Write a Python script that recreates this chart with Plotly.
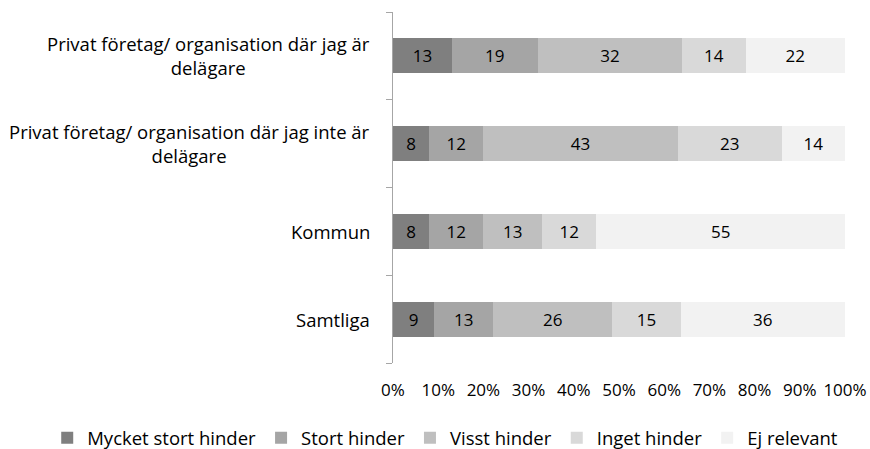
import plotly.graph_objects as go

# Categories (top to bottom) and response shares in percent
categories = [
    "Privat företag/ organisation där jag är<br>delägare",
    "Privat företag/ organisation där jag inte är<br>delägare",
    "Kommun",
    "Samtliga",
]
series_names = ["Mycket stort hinder", "Stort hinder", "Visst hinder", "Inget hinder", "Ej relevant"]
mycket_stort = [13, 8, 8, 9]
stort = [19, 12, 12, 13]
visst = [32, 43, 13, 26]
inget = [14, 23, 12, 15]
ej_relevant = [22, 14, 55, 36]
series_values = [mycket_stort, stort, visst, inget, ej_relevant]
colors = ["#7f7f7f", "#a5a5a5", "#bfbfbf", "#d9d9d9", "#f2f2f2"]
x_ticks = [0, 10, 20, 30, 40, 50, 60, 70, 80, 90, 100]
x_tick_labels = [f"{t}%" for t in x_ticks]

FONT = "Open Sans"
FS_TEXT = 18.5   # category labels and legend
FS_NUM = 17      # numbers on bars and axis
fig = go.Figure()
for name, vals, col in zip(series_names, series_values, colors):
    fig.add_trace(go.Bar(
        y=list(range(len(categories))),
        x=vals,
        name=name,
        orientation="h",
        marker=dict(color=col, line=dict(width=0)),
        text=vals,
        texttemplate="%{text}",
        textposition="inside",
        insidetextanchor="middle",
        textangle=0,
        constraintext="none",
        textfont=dict(family=FONT, size=FS_NUM, color="#000000"),
        hoverinfo="skip",
    ))

# Category labels drawn centered, to the left of the axis
for i, cat in enumerate(categories):
    fig.add_annotation(
        x=-0.046, xref="paper", xanchor="right",
        y=i, yref="y", yanchor="middle",
        text=cat, showarrow=False, align="center",
        font=dict(family=FONT, size=FS_TEXT, color="#000000"),
    )

fig.update_layout(
    barmode="stack",
    barnorm="percent",
    bargap=0.6,
    width=870, height=449,
    margin=dict(l=393, r=25, t=12, b=86, autoexpand=False),
    plot_bgcolor="white",
    paper_bgcolor="white",
    font=dict(family=FONT, size=FS_NUM, color="#000000"),
    xaxis=dict(
        range=[0, 100],
        tickvals=x_ticks,
        ticktext=x_tick_labels,
        showgrid=False,
        zeroline=False,
        showline=False,
        ticks="",
        ticklabelstandoff=15,
        tickfont=dict(family=FONT, size=FS_NUM, color="#000000"),
        fixedrange=True,
    ),
    yaxis=dict(
        type="category",
        range=[len(categories) - 0.5, -0.5],
        tickvals=list(range(len(categories))),
        showticklabels=False,
        tickson="boundaries",
        ticks="outside",
        ticklen=6,
        tickcolor="#a6a6a6",
        showline=True,
        linecolor="#a6a6a6",
        linewidth=1,
        showgrid=False,
        zeroline=False,
        fixedrange=True,
    ),
    legend=dict(
        orientation="h",
        x=-0.765, xanchor="left",
        y=-0.214, yanchor="middle",
        font=dict(family=FONT, size=FS_TEXT, color="#000000"),
        traceorder="normal",
    ),
    showlegend=True,
)

fig.write_html("out.html")
